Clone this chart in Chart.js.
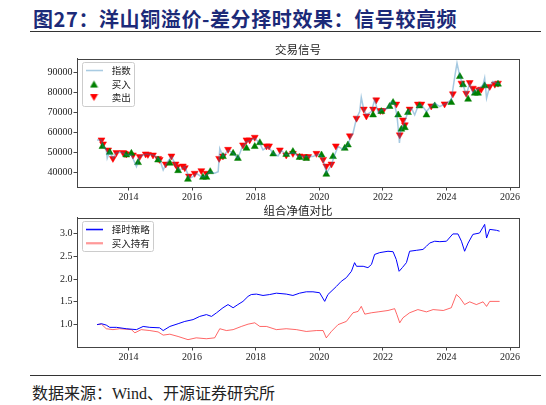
<!DOCTYPE html>
<html>
<head>
<meta charset="utf-8">
<script src="https://cdn.jsdelivr.net/npm/chart.js@4.4.1/dist/chart.umd.min.js"></script>
<style>
  html, body { margin: 0; padding: 0; background: #fff; }
  #page { position: relative; width: 546px; height: 405px; overflow: hidden; }
  #head { position: absolute; left: 33px; top: 4px; line-height: 22px; font: bold 20px "Noto Sans CJK SC"; letter-spacing: 0.6px; color: #1c2a78; white-space: nowrap; }
  .rule { position: absolute; left: 30px; width: 511px; height: 0; border-top: 1.5px solid #333; }
  #foot { position: absolute; left: 32px; top: 384px; line-height: 20px; font-size: 16px; font-family: "Liberation Serif", "Noto Sans CJK SC", serif; color: #222; white-space: nowrap; }
  canvas { position: absolute; left: 0; }
</style>
</head>
<body>
<div id="page">
  <div id="head">图27：洋山铜溢价-差分择时效果：信号较高频</div>
  <div class="rule" style="top:31px"></div>
  <canvas id="signals" width="546" height="171" style="top:36px"></canvas>
  <canvas id="navs" width="546" height="166" style="top:201px"></canvas>
  <div class="rule" style="top:375px"></div>
  <div id="foot">数据来源：Wind、开源证券研究所</div>
</div>
<script>
// 指数 (index) line
const idxYears = [2013.01,2013.15,2013.20,2013.30,2013.33,2013.41,2013.51,2013.62,2013.83,2013.93,2014.09,2014.25,2014.35,2014.56,2014.77,2014.98,2015.09,2015.19,2015.35,2015.51,2015.61,2015.77,2015.92,2016.03,2016.13,2016.29,2016.40,2016.55,2016.71,2016.82,2016.87,2016.97,2017.13,2017.29,2017.44,2017.58,2017.71,2017.86,2017.97,2018.13,2018.23,2018.39,2018.55,2018.70,2018.81,2018.96,2019.17,2019.33,2019.49,2019.65,2019.80,2019.96,2020.07,2020.17,2020.22,2020.38,2020.48,2020.59,2020.75,2020.90,2021.01,2021.06,2021.17,2021.27,2021.32,2021.40,2021.48,2021.64,2021.74,2021.85,2021.95,2022.16,2022.27,2022.37,2022.44,2022.50,2022.52,2022.56,2022.69,2022.79,2022.90,2023.00,2023.10,2023.21,2023.37,2023.52,2023.63,2023.79,2024.00,2024.15,2024.26,2024.33,2024.42,2024.52,2024.62,2024.73,2024.83,2024.94,2025.04,2025.15,2025.20,2025.26,2025.36,2025.46,2025.57,2025.67];
const idxValues = [56300,56300,53000,51300,47100,50500,47100,50000,50000,48800,48800,43000,48000,49300,48800,46600,41300,44600,48000,43000,41300,43000,37200,38000,39700,38000,38000,40500,39700,40500,52000,48000,51300,49600,47100,53000,55400,56300,57100,54600,51300,53000,49600,48300,51000,48800,50000,48300,48000,48000,48000,49300,48000,43800,39700,43800,48800,53000,51600,53800,58800,59600,67100,70400,77500,71200,68700,70400,76200,69900,71200,72000,75400,73700,68700,59000,54800,60500,65400,70400,72000,68700,72900,73700,70400,73200,74600,72900,74600,76200,87800,94500,87800,83700,78700,84500,79500,81200,82000,83700,87000,77000,82900,85300,84500,84200];

// 买入 signals
const buyYears = [2013.18,2013.41,2013.93,2014.09,2014.30,2014.93,2015.30,2015.56,2015.87,2016.34,2016.45,2016.57,2016.97,2017.29,2017.44,2017.71,2017.97,2018.13,2018.55,2018.96,2019.17,2019.38,2019.59,2020.07,2020.22,2020.43,2020.80,2020.90,2021.69,2021.95,2022.21,2022.32,2022.48,2022.58,2022.69,2022.79,2023.15,2023.37,2023.63,2024.15,2024.42,2024.52,2024.68,2024.89,2024.99,2025.20,2025.62];
const buyValues = [53000,50100,48800,49600,45000,46300,44700,41000,36700,37700,37700,40500,48000,49600,47100,52100,53000,54900,49300,49100,50500,47600,47100,48800,39200,48000,52100,53800,68700,70400,72900,74900,68700,61600,62400,69900,73200,68700,73200,74900,87800,83700,76500,79500,79500,83200,84000];

// 卖出 signals
const sellYears = [2013.15,2013.20,2013.36,2013.51,2013.62,2013.83,2013.88,2013.93,2014.14,2014.35,2014.54,2014.61,2014.77,2014.93,2014.98,2015.17,2015.35,2015.48,2015.53,2015.71,2015.77,2015.90,2016.08,2016.29,2016.45,2016.85,2016.97,2017.13,2017.60,2017.71,2017.81,2017.97,2018.34,2018.42,2018.76,2018.96,2019.17,2019.38,2019.54,2019.65,2019.91,2020.12,2020.22,2020.38,2020.52,2020.96,2021.17,2021.40,2021.48,2021.69,2021.79,2021.92,2022.00,2022.42,2022.53,2022.63,2022.69,2022.84,2023.10,2023.21,2023.52,2023.94,2024.20,2024.47,2024.62,2024.73,2024.83,2025.02,2025.09,2025.36,2025.52,2025.62];
const sellValues = [56300,54300,51300,47100,50000,50000,49600,49300,48800,48000,49300,49100,48800,47100,46600,44300,48300,44300,43000,43300,42500,38300,39700,41000,39700,47100,48300,51600,53800,56300,56300,57600,53300,53300,51300,48800,49600,48300,48000,48000,49600,46600,43300,44300,53300,58300,67100,71600,68200,71600,76200,70900,70900,74100,58800,66200,63800,71600,74100,74100,73200,74200,79200,84500,79500,84800,82000,81200,81500,82900,84000,84500];

// 组合净值: 择时策略
const stratYears = [2013.01,2013.15,2013.30,2013.41,2013.62,2013.93,2014.25,2014.46,2014.67,2014.98,2015.09,2015.30,2015.56,2015.77,2016.03,2016.24,2016.45,2016.61,2016.77,2016.97,2017.13,2017.29,2017.44,2017.60,2017.76,2017.86,2018.02,2018.23,2018.44,2018.65,2018.96,2019.17,2019.38,2019.59,2019.80,2020.01,2020.17,2020.27,2020.54,2020.69,2020.85,2021.01,2021.11,2021.17,2021.38,2021.53,2021.64,2021.74,2021.90,2022.16,2022.32,2022.42,2022.51,2022.61,2022.74,2022.84,2023.05,2023.26,2023.37,2023.47,2023.63,2023.79,2024.00,2024.20,2024.36,2024.47,2024.57,2024.68,2024.83,2025.04,2025.20,2025.26,2025.36,2025.57,2025.67];
const stratValues = [1.00,1.02,0.99,0.94,0.94,0.91,0.89,0.96,0.94,0.93,0.87,0.96,1.02,1.07,1.11,1.18,1.22,1.18,1.26,1.37,1.44,1.37,1.44,1.51,1.62,1.66,1.67,1.64,1.66,1.69,1.67,1.64,1.69,1.72,1.72,1.70,1.51,1.66,1.84,1.95,2.03,2.17,2.36,2.28,2.28,2.25,2.32,2.54,2.58,2.61,2.60,2.43,2.17,2.25,2.36,2.61,2.63,2.65,2.72,2.79,2.83,2.82,2.83,2.99,2.99,2.83,2.61,2.79,2.98,3.01,3.20,2.90,3.09,3.07,3.05];

// 组合净值: 买入持有
const holdYears = [2013.01,2013.15,2013.30,2013.51,2013.72,2014.09,2014.20,2014.40,2014.67,2014.93,2015.09,2015.30,2015.56,2015.87,2016.13,2016.45,2016.71,2016.87,2017.08,2017.29,2017.55,2017.76,2017.97,2018.13,2018.34,2018.65,2018.96,2019.28,2019.59,2019.91,2020.12,2020.22,2020.38,2020.59,2020.85,2021.06,2021.22,2021.32,2021.43,2021.64,2021.85,2022.16,2022.37,2022.44,2022.53,2022.63,2022.84,2023.10,2023.37,2023.58,2023.90,2024.15,2024.31,2024.42,2024.57,2024.73,2024.94,2025.15,2025.26,2025.36,2025.67];
const holdValues = [1.00,1.01,0.91,0.89,0.91,0.89,0.82,0.89,0.87,0.84,0.77,0.79,0.74,0.67,0.71,0.69,0.71,0.91,0.87,0.89,0.96,1.01,1.04,0.96,0.96,0.89,0.91,0.89,0.85,0.87,0.87,0.71,0.85,1.00,1.07,1.26,1.29,1.40,1.23,1.26,1.28,1.31,1.35,1.22,1.04,1.15,1.26,1.33,1.28,1.33,1.31,1.37,1.66,1.59,1.44,1.50,1.44,1.50,1.40,1.51,1.51];

const yearTicks = [2014, 2016, 2018, 2020, 2022, 2024, 2026];
const indexTicks = [40000, 50000, 60000, 70000, 80000, 90000];
const navTicks = [1.0, 1.5, 2.0, 2.5, 3.0];

const idxColor = 'rgba(31, 119, 180, 0.4)';
const holdColor = 'rgba(255, 0, 0, 0.6)';

let pts = (xs, ys) => xs.map((x, i) => ({x: x, y: ys[i]}));

// small canvases used as legend handles (line sample / triangle marker)
let lineHandle = (color) => {
    let c = document.createElement('canvas');
    c.width = 17; c.height = 3;
    let g = c.getContext('2d');
    g.strokeStyle = color; g.lineWidth = 1.5;
    g.beginPath(); g.moveTo(0, 1.5); g.lineTo(17, 1.5); g.stroke();
    return c;
};
let triHandle = (color, down) => {
    let c = document.createElement('canvas');
    c.width = 9; c.height = 9;
    let g = c.getContext('2d');
    g.fillStyle = color;
    g.beginPath();
    if (down) { g.moveTo(0.5, 1); g.lineTo(8.5, 1); g.lineTo(4.5, 8); }
    else { g.moveTo(0.5, 8); g.lineTo(8.5, 8); g.lineTo(4.5, 1); }
    g.closePath(); g.fill();
    return c;
};

// matplotlib-like frame round the plot and the legend, legend placed inside the axes
const framePlugin = {
    id: 'frame',
    afterLayout(chart) {
        const lg = chart.legend;
        if (lg) {
            lg.left = chart.chartArea.left;
            lg.top = chart.chartArea.top + 3;
            lg.bottom = lg.top + lg.height;
        }
    },
    afterDraw(chart) {
        const ctx = chart.ctx;
        const a = chart.chartArea;
        ctx.save();
        ctx.strokeStyle = '#444';
        ctx.lineWidth = 1;
        ctx.strokeRect(Math.round(a.left) + 0.5, Math.round(a.top) + 0.5, Math.round(a.right - a.left), Math.round(a.bottom - a.top));
        const boxes = chart.legend && chart.legend.legendHitBoxes;
        if (boxes && boxes.length) {
            let l = Math.min(...boxes.map(b => b.left)) + 1;
            let t = Math.min(...boxes.map(b => b.top)) - 4;
            let r = Math.max(...boxes.map(b => b.left + b.width)) + 3;
            let bt = Math.max(...boxes.map(b => b.top + b.height)) + 3;
            ctx.strokeStyle = '#cccccc';
            ctx.beginPath();
            ctx.roundRect(Math.round(l) + 0.5, Math.round(t) + 0.5, Math.round(r - l), Math.round(bt - t), 2);
            ctx.stroke();
        }
        ctx.restore();
    }
};

let xAxis = () => ({
    type: 'linear',
    min: 2012.38,
    max: 2026.28,
    afterBuildTicks: (s) => { s.ticks = yearTicks.map(v => ({value: v})); },
    afterFit: (s) => { s.height = 20; },
    ticks: {
        autoSkip: false, maxRotation: 0, padding: 1, color: '#222',
        font: {family: 'Liberation Serif', size: 10},
        callback: (v) => String(v)
    },
    grid: {drawOnChartArea: false, drawTicks: true, tickLength: 3.5, color: '#444'},
    border: {display: true, color: '#444'}
});

let yAxis = (min, max, list, fmt) => ({
    type: 'linear',
    min: min,
    max: max,
    afterBuildTicks: (s) => { s.ticks = list.map(v => ({value: v})); },
    afterFit: (s) => { s.width = 77; },
    ticks: {
        padding: 1, color: '#222',
        font: {family: 'Liberation Serif', size: 10},
        callback: fmt
    },
    grid: {drawOnChartArea: false, drawTicks: true, tickLength: 3.5, color: '#444'},
    border: {display: true, color: '#444'}
});

let titleOpts = (text, padTop, padBottom) => ({
    display: true,
    text: text,
    fullSize: false,
    color: '#222',
    font: {family: 'Noto Sans CJK SC', size: 11.5, weight: 'normal'},
    padding: {top: padTop, bottom: padBottom}
});

let legendOpts = (handles) => ({
    position: 'chartArea',
    align: 'start',
    labels: {
        usePointStyle: true,
        pointStyleWidth: 26,
        boxHeight: 9,
        padding: 4,
        color: '#222',
        font: {family: 'Noto Sans CJK SC', size: 9.5},
        generateLabels: (chart) => Chart.defaults.plugins.legend.labels.generateLabels(chart)
            .map((item, i) => Object.assign(item, {pointStyle: handles[i], rotation: 0}))
    }
});

this.chart = new Chart(document.getElementById('signals').getContext('2d'), {
    type: 'line',
    data: {
        datasets: [
            {
                label: '指数',
                data: pts(idxYears, idxValues),
                borderColor: idxColor,
                backgroundColor: idxColor,
                borderWidth: 1.5,
                pointRadius: 0,
                tension: 0
            },
            {
                label: '买入',
                data: pts(buyYears, buyValues),
                showLine: false,
                pointStyle: 'triangle',
                pointRadius: 4,
                backgroundColor: '#008000',
                borderColor: '#008000',
                pointBorderWidth: 0.5
            },
            {
                label: '卖出',
                data: pts(sellYears, sellValues),
                showLine: false,
                pointStyle: 'triangle',
                rotation: 180,
                pointRadius: 4,
                backgroundColor: '#ff0000',
                borderColor: '#ff0000',
                pointBorderWidth: 0.5
            }]
    },
    options: {
        responsive: false,
        animation: false,
        devicePixelRatio: 1,
        layout: {padding: {left: 0, right: 27, top: 0, bottom: 0}},
        scales: {
            x: xAxis(),
            y: yAxis(32880, 96620, indexTicks, (v) => String(v))
        },
        plugins: {
            title: titleOpts('交易信号', 7, 2),
            legend: legendOpts([lineHandle(idxColor), triHandle('#008000', false), triHandle('#ff0000', true)]),
            tooltip: {enabled: false}
        }
    },
    plugins: [framePlugin]
});

this.chart1 = new Chart(document.getElementById('navs').getContext('2d'), {
    type: 'line',
    data: {
        datasets: [
            {
                label: '择时策略',
                data: pts(stratYears, stratValues),
                borderColor: '#0000ff',
                backgroundColor: '#0000ff',
                borderWidth: 1,
                pointRadius: 0,
                tension: 0
            },
            {
                label: '买入持有',
                data: pts(holdYears, holdValues),
                borderColor: holdColor,
                backgroundColor: holdColor,
                borderWidth: 1,
                pointRadius: 0,
                tension: 0
            }]
    },
    options: {
        responsive: false,
        animation: false,
        devicePixelRatio: 1,
        layout: {padding: {left: 0, right: 27, top: 0, bottom: 0}},
        scales: {
            x: xAxis(),
            y: yAxis(0.509, 3.344, navTicks, (v) => v.toFixed(1))
        },
        plugins: {
            title: titleOpts('组合净值对比', 3, 0),
            legend: legendOpts([lineHandle('#0000ff'), lineHandle(holdColor)]),
            tooltip: {enabled: false}
        }
    },
    plugins: [framePlugin]
});
</script>
</body>
</html>
